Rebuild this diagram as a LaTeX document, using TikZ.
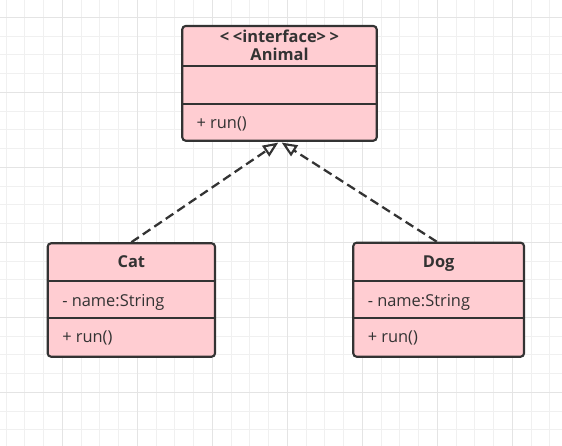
\documentclass[tikz,border=0pt]{standalone}
\usepackage{fontspec}
\setmainfont{Open Sans}[Ligatures=NoCommon]
\usetikzlibrary{arrows.meta,calc}
\definecolor{boxfill}{HTML}{FFCDD2}
\definecolor{boxline}{HTML}{333333}
\definecolor{txt}{HTML}{333333}
\definecolor{gridminor}{HTML}{F0F0F0}
\definecolor{gridmajor}{HTML}{E4E4E4}
\tikzset{
  umlbox/.style={draw=boxline, fill=boxfill, line width=1.6pt, rounded corners=2.5pt, inner sep=0pt},
  divider/.style={draw=boxline, line width=1.6pt},
  boldtxt/.style={text=txt, font=\fontsize{12.3pt}{14pt}\selectfont\bfseries, anchor=base, inner sep=0pt},
  plaintxt/.style={text=txt, font=\fontsize{12.3pt}{14pt}\selectfont, anchor=base west, inner sep=0pt},
  realize/.style={draw=boxline, line width=1.7pt, dash pattern=on 6.8pt off 3.6pt,
    -{Triangle[open, length=11.5pt, width=9.5pt, line width=1.6pt]}},
  minorgrid/.style={draw=gridminor, line width=0.75pt},
  majorgrid/.style={draw=gridmajor, line width=0.75pt}
}
\newcommand{\lsp}{\kern0.22em}
\begin{document}
\begin{tikzpicture}[x=0.75pt,y=-0.75pt]
\fill[white] (0,0) rectangle (562,446);
\useasboundingbox (0,0) rectangle (562,446);
% grid
\foreach \i in {0,...,29} \draw[minorgrid] ({6.05+18.75*\i},0) -- ({6.05+18.75*\i},446);
\foreach \j in {-1,...,23} \draw[minorgrid] (0,{17.3+18.75*\j}) -- (562,{17.3+18.75*\j});
\foreach \i in {-1,...,6} \draw[majorgrid] ({62.3+75*\i},0) -- ({62.3+75*\i},446);
\foreach \j in {0,...,5} \draw[majorgrid] (0,{17.3+75*\j}) -- (562,{17.3+75*\j});

% Animal
\node[umlbox, minimum width=194.4*0.75pt, minimum height=114.7*0.75pt] (animal) at (279.5,83.35) {};
\draw[divider] (animal.west |- 0,66) -- (animal.east |- 0,66);
\draw[divider] (animal.west |- 0,104) -- (animal.east |- 0,104);
\node[boldtxt] (animalst) at (279.5,42.5) {\textless\lsp\textless interface\textgreater\lsp\textgreater};
\node[boldtxt] (animalname) at (279.5,60.5) {Animal};
\node[plaintxt] (animalop) at (196.3,128.3) {+ run()};

% Cat
\node[umlbox, minimum width=167.3*0.75pt, minimum height=113.4*0.75pt] (cat) at (131.35,300) {};
\draw[divider] (cat.west |- 0,281) -- (cat.east |- 0,281);
\draw[divider] (cat.west |- 0,318.3) -- (cat.east |- 0,318.3);
\node[boldtxt] (catname) at (131.35,267.3) {Cat};
\node[plaintxt] (catattr) at (62,306) {- name:String};
\node[plaintxt] (catop) at (62,342) {+ run()};

% Dog
\node[umlbox, minimum width=170.7*0.75pt, minimum height=114*0.75pt] (dog) at (438.65,299.7) {};
\draw[divider] (dog.west |- 0,280.7) -- (dog.east |- 0,280.7);
\draw[divider] (dog.west |- 0,318.3) -- (dog.east |- 0,318.3);
\node[boldtxt] (dogname) at (438.65,267.3) {Dog};
\node[plaintxt] (dogattr) at (367.5,306) {- name:String};
\node[plaintxt] (dogop) at (367.5,342) {+ run()};

% realizations
\draw[realize] (cat.north) -- ($(animal.south)+(-1.2,0.8)$);
\draw[realize] ($(dog.north)+(-2,0)$) -- ($(animal.south)+(2.2,0.8)$);
\end{tikzpicture}
\end{document}
